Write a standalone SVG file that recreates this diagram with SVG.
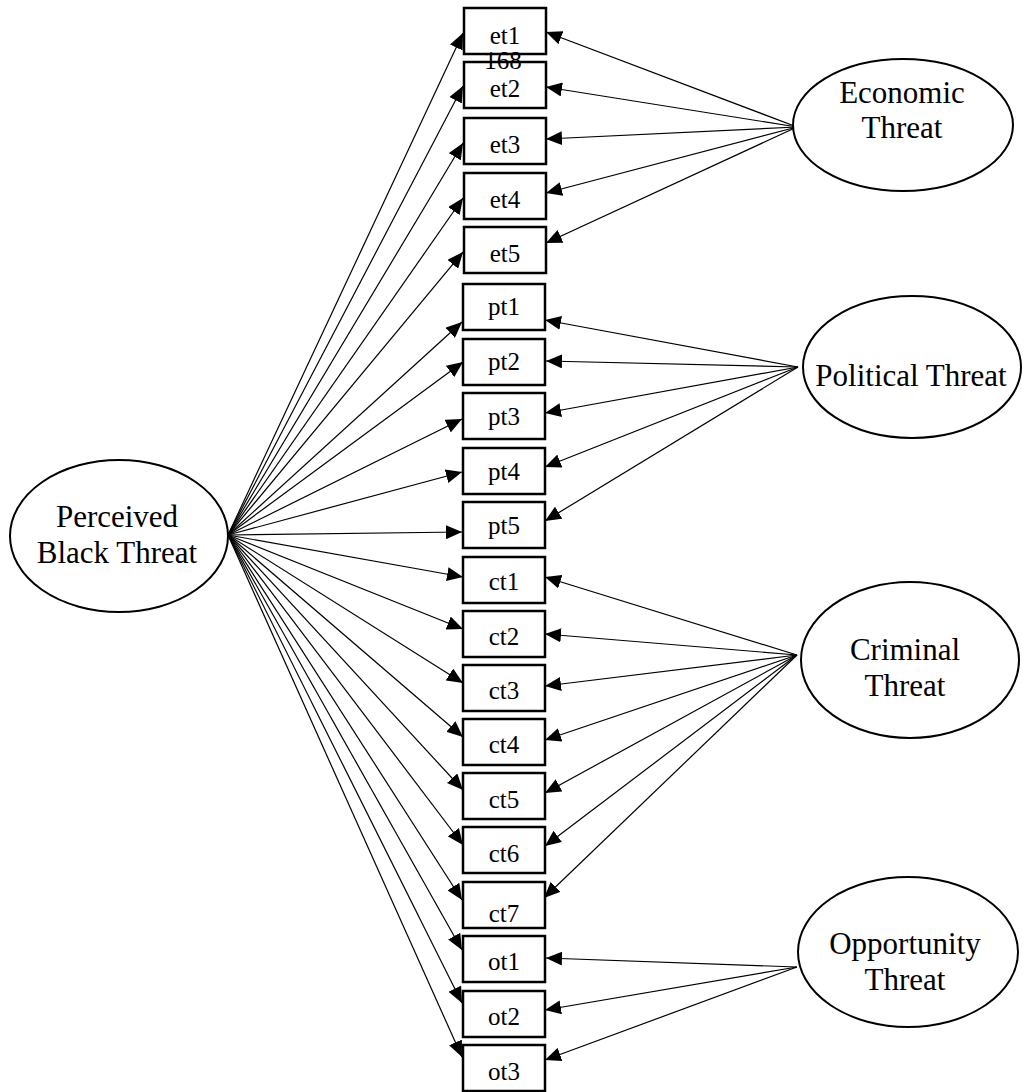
<svg xmlns="http://www.w3.org/2000/svg" width="1023" height="1092" viewBox="0 0 1023 1092">
<style>
.box{fill:#fff;stroke:#000;stroke-width:2.5}
.ell{fill:#fff;stroke:#000;stroke-width:2}
.bt{font-family:"Liberation Serif","Times New Roman",serif;font-size:25px;text-anchor:middle;fill:#000}
.et{font-family:"Liberation Serif","Times New Roman",serif;font-size:31px;text-anchor:middle;fill:#000}
.c line{stroke:#000;stroke-width:1.2;marker-end:url(#ah)}
</style>
<defs>
<marker id="ah" markerUnits="userSpaceOnUse" markerWidth="16" markerHeight="14" refX="16" refY="7" orient="auto">
<path d="M0,0 L16,7 L0,14 z" fill="#000"/>
</marker>
</defs>
<rect width="1023" height="1092" fill="#fff"/>
<g id="connectors" class="c">
<line x1="228" y1="535" x2="463" y2="33"/>
<line x1="228" y1="535" x2="463" y2="86"/>
<line x1="228" y1="535" x2="463" y2="143"/>
<line x1="228" y1="535" x2="463" y2="198"/>
<line x1="228" y1="535" x2="463" y2="252"/>
<line x1="228" y1="535" x2="462" y2="322"/>
<line x1="228" y1="535" x2="463" y2="362"/>
<line x1="228" y1="535" x2="462" y2="419"/>
<line x1="228" y1="535" x2="462" y2="472"/>
<line x1="228" y1="535" x2="462" y2="532"/>
<line x1="228" y1="535" x2="463" y2="577"/>
<line x1="228" y1="535" x2="463" y2="629"/>
<line x1="228" y1="535" x2="463" y2="683"/>
<line x1="228" y1="535" x2="463" y2="737"/>
<line x1="228" y1="535" x2="463" y2="790"/>
<line x1="228" y1="535" x2="463" y2="845"/>
<line x1="228" y1="535" x2="462" y2="900"/>
<line x1="228" y1="535" x2="462" y2="950"/>
<line x1="228" y1="535" x2="462" y2="1003"/>
<line x1="228" y1="535" x2="462" y2="1057"/>
<line x1="797" y1="127" x2="546" y2="32"/>
<line x1="797" y1="127" x2="546" y2="87"/>
<line x1="797" y1="127" x2="546" y2="139"/>
<line x1="797" y1="127" x2="546" y2="193"/>
<line x1="797" y1="127" x2="546" y2="243"/>
<line x1="798" y1="367" x2="545" y2="320"/>
<line x1="798" y1="367" x2="546" y2="361"/>
<line x1="798" y1="367" x2="545" y2="413"/>
<line x1="798" y1="367" x2="545" y2="467"/>
<line x1="798" y1="367" x2="545" y2="521"/>
<line x1="797" y1="655" x2="545" y2="577"/>
<line x1="797" y1="655" x2="545" y2="634"/>
<line x1="797" y1="655" x2="545" y2="686"/>
<line x1="797" y1="655" x2="545" y2="740"/>
<line x1="797" y1="655" x2="545" y2="793"/>
<line x1="797" y1="655" x2="545" y2="846"/>
<line x1="797" y1="655" x2="544" y2="898"/>
<line x1="797" y1="967" x2="546" y2="958"/>
<line x1="797" y1="967" x2="545" y2="1010"/>
<line x1="797" y1="967" x2="545" y2="1060"/>
</g>
<g id="et1"><rect class="box" x="464" y="8" width="82" height="46"/><text class="bt" x="505" y="44">et1</text></g>
<g id="et2"><rect class="box" x="464" y="62" width="82" height="46"/><text class="bt" x="505" y="97">et2</text></g>
<g id="et3"><rect class="box" x="464" y="118" width="82" height="46"/><text class="bt" x="505" y="153">et3</text></g>
<g id="et4"><rect class="box" x="464" y="173" width="82" height="46"/><text class="bt" x="505" y="208">et4</text></g>
<g id="et5"><rect class="box" x="464" y="227" width="82" height="46"/><text class="bt" x="505" y="262">et5</text></g>
<g id="pt1"><rect class="box" x="463" y="284" width="82" height="46"/><text class="bt" x="504" y="315">pt1</text></g>
<g id="pt2"><rect class="box" x="463" y="339" width="82" height="46"/><text class="bt" x="504" y="370">pt2</text></g>
<g id="pt3"><rect class="box" x="463" y="393" width="82" height="46"/><text class="bt" x="504" y="425">pt3</text></g>
<g id="pt4"><rect class="box" x="463" y="448" width="82" height="46"/><text class="bt" x="504" y="480">pt4</text></g>
<g id="pt5"><rect class="box" x="463" y="502" width="82" height="46"/><text class="bt" x="504" y="534">pt5</text></g>
<g id="ct1"><rect class="box" x="463" y="557" width="82" height="46"/><text class="bt" x="504" y="590">ct1</text></g>
<g id="ct2"><rect class="box" x="463" y="611" width="82" height="46"/><text class="bt" x="504" y="645">ct2</text></g>
<g id="ct3"><rect class="box" x="463" y="665" width="82" height="46"/><text class="bt" x="504" y="699">ct3</text></g>
<g id="ct4"><rect class="box" x="463" y="719" width="82" height="46"/><text class="bt" x="504" y="753">ct4</text></g>
<g id="ct5"><rect class="box" x="463" y="773" width="82" height="46"/><text class="bt" x="504" y="808">ct5</text></g>
<g id="ct6"><rect class="box" x="463" y="827" width="82" height="46"/><text class="bt" x="504" y="862">ct6</text></g>
<g id="ct7"><rect class="box" x="463" y="882" width="82" height="46"/><text class="bt" x="504" y="922">ct7</text></g>
<g id="ot1"><rect class="box" x="463" y="936" width="82" height="46"/><text class="bt" x="504" y="970">ot1</text></g>
<g id="ot2"><rect class="box" x="463" y="991" width="82" height="46"/><text class="bt" x="504" y="1025">ot2</text></g>
<g id="ot3"><rect class="box" x="463" y="1045" width="82" height="46"/><text class="bt" x="504" y="1080">ot3</text></g>
<text id="page-number" class="bt" x="503" y="69" font-size="26">168</text>
<g id="perceived"><ellipse class="ell" cx="119" cy="536" rx="109" ry="76"/><text class="et" x="117" y="527">Perceived</text><text class="et" x="117" y="563">Black Threat</text></g>
<g id="economic"><ellipse class="ell" cx="903" cy="125" rx="110" ry="66"/><text class="et" x="902" y="103">Economic</text><text class="et" x="902" y="138">Threat</text></g>
<g id="political"><ellipse class="ell" cx="912" cy="367" rx="109" ry="71"/><text class="et" x="911" y="386">Political Threat</text></g>
<g id="criminal"><ellipse class="ell" cx="910" cy="660" rx="109" ry="78"/><text class="et" x="905" y="660">Criminal</text><text class="et" x="905" y="696">Threat</text></g>
<g id="opportunity"><ellipse class="ell" cx="908" cy="952" rx="110" ry="75"/><text class="et" x="905" y="954">Opportunity</text><text class="et" x="905" y="990">Threat</text></g>
</svg>
